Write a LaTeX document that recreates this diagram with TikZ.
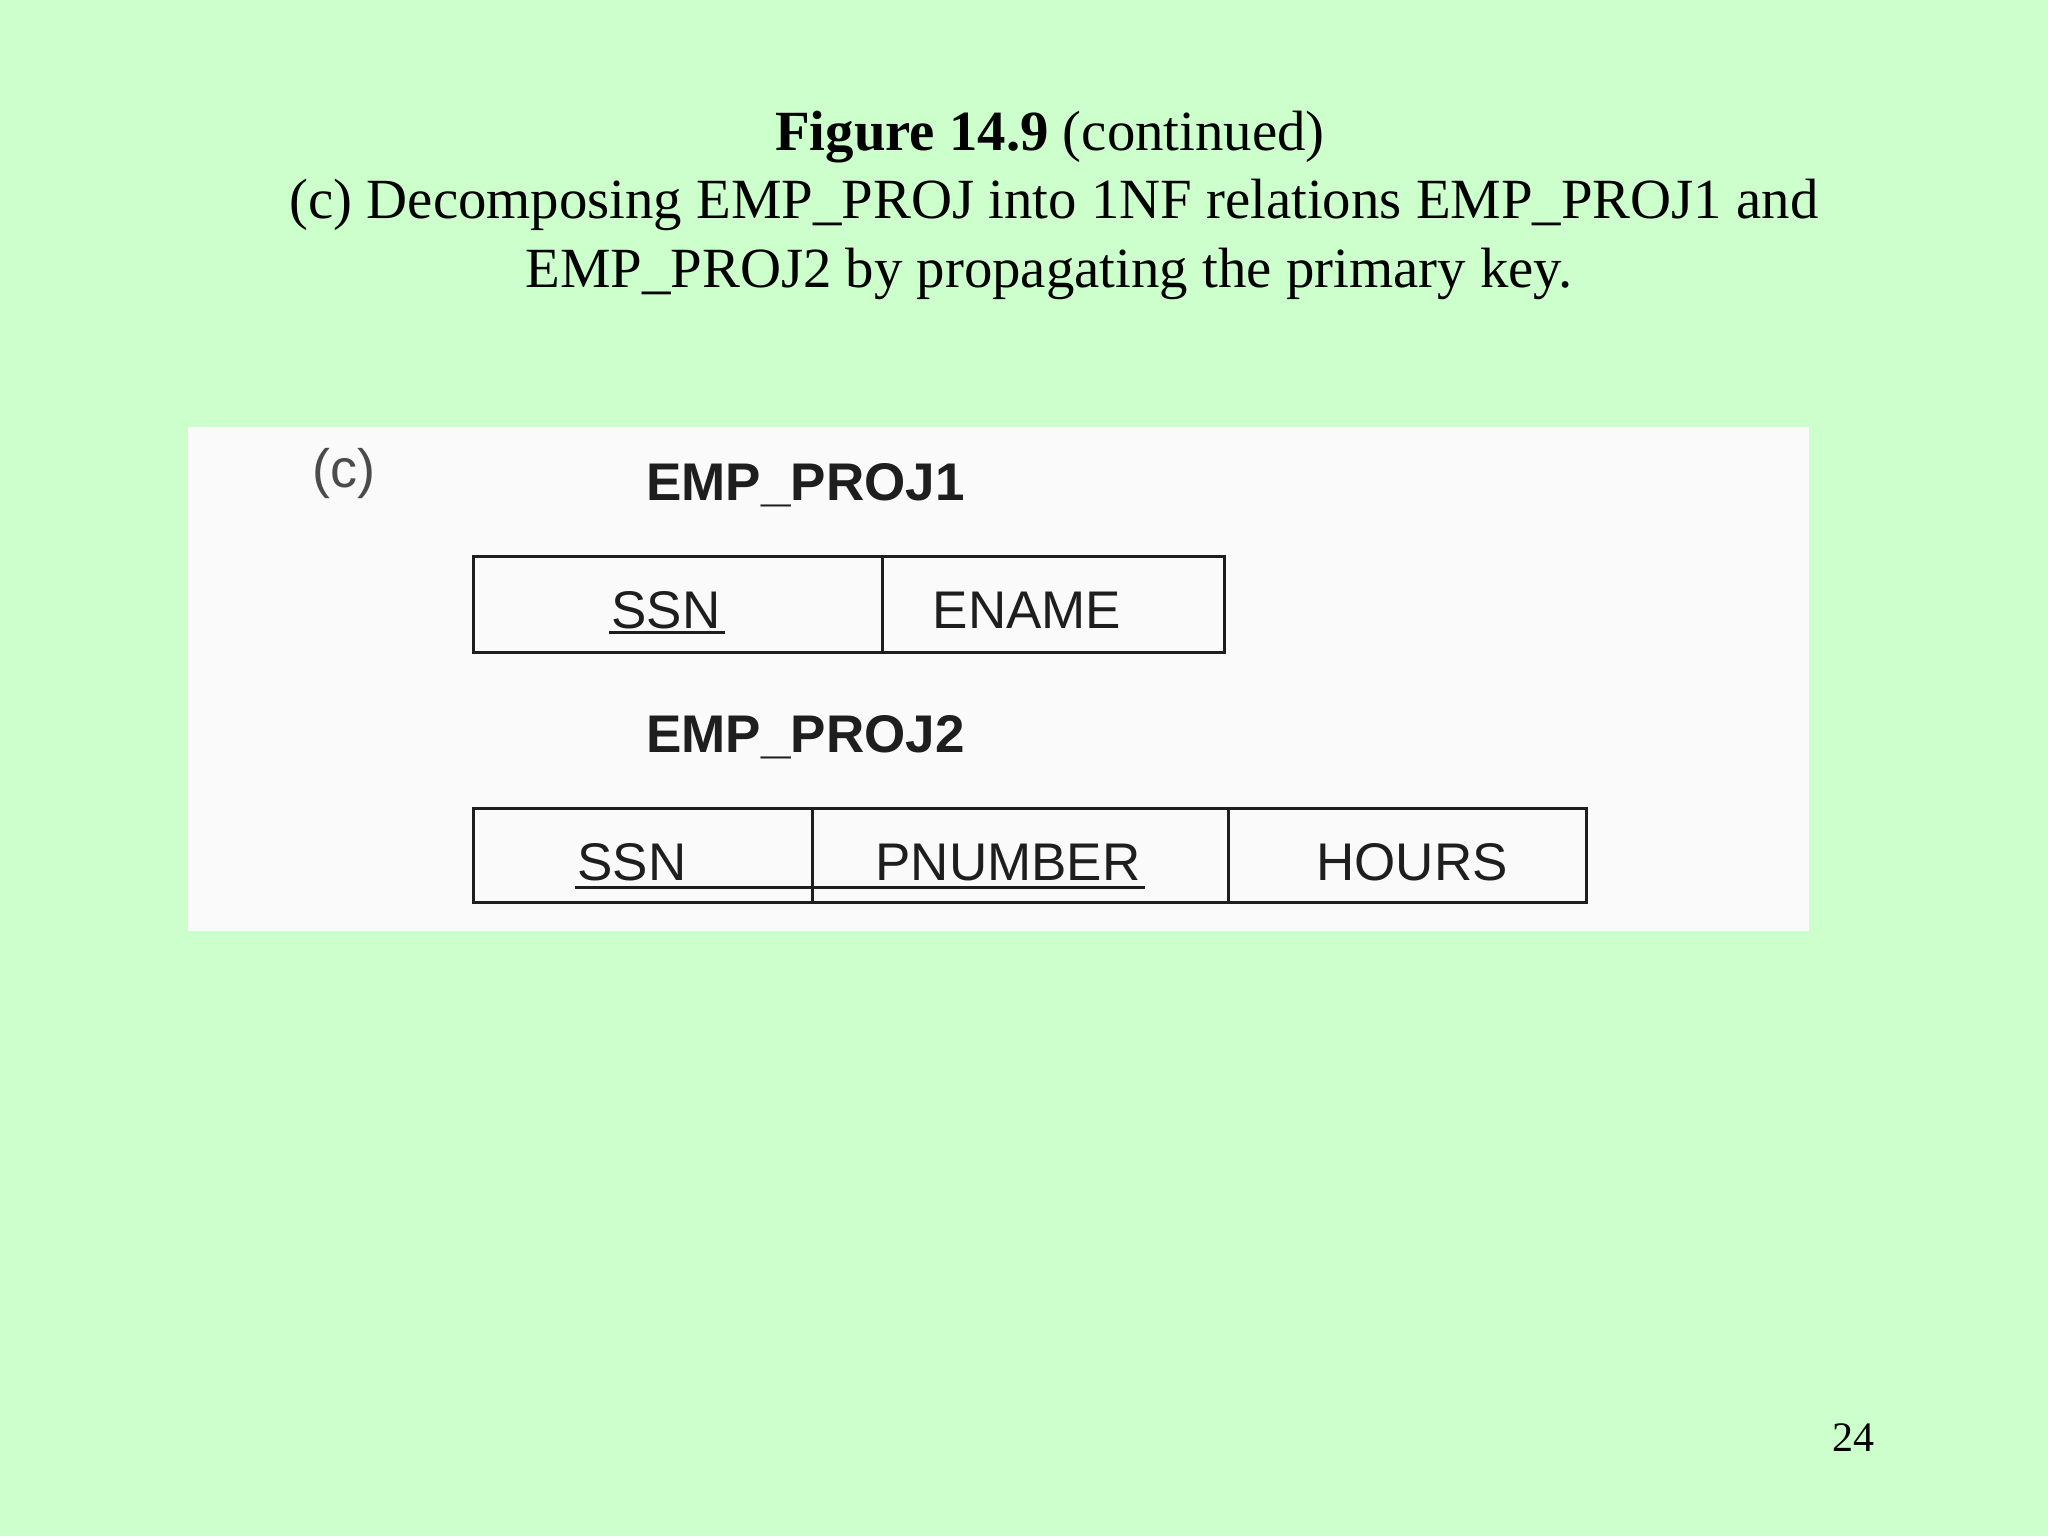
\documentclass[tikz,border=0pt]{standalone}
\usepackage{fontspec}
\setmainfont{Liberation Serif}
\setsansfont{Liberation Sans}
\usetikzlibrary{fit}
\definecolor{bggreen}{HTML}{CCFFCC}
\definecolor{panel}{HTML}{FAFAFA}
\definecolor{ink}{HTML}{1E1E1E}
\begin{document}
\begin{tikzpicture}[x=0.5pt,y=-0.5pt,
  cell/.style={draw=ink, line width=1.5pt, inner sep=0pt},
  attr/.style={inner sep=0pt, anchor=base, text=ink, font=\sffamily\fontsize{26.5}{30}\selectfont},
  relname/.style={inner sep=0pt, anchor=base west, text=ink, font=\sffamily\bfseries\fontsize{26.5}{30}\selectfont},
  titleline/.style={inner sep=0pt, anchor=base, font=\fontsize{28.4}{34}\selectfont},
  keyline/.style={draw=ink, line width=1.5pt}]
\fill[bggreen] (0,0) rectangle (2048,1536);
\useasboundingbox (0,0) rectangle (2048,1536);
% title
\node[titleline] (t1) at (1050,150) {\textbf{Figure 14.9} (continued)};
\node[titleline] (t2) at (1054,218) {(c) Decomposing EMP\_PROJ into 1NF relations EMP\_PROJ1 and};
\node[titleline] (t3) at (1049,287) {EMP\_PROJ2 by propagating the primary key.};
% panel
\node[fill=panel, inner sep=0pt, fit={(188,427) (1809,931)}] (panel) {};
\node[inner sep=0pt, text=ink!80, font=\sffamily\fontsize{27}{32}\selectfont] (lbl) at (344,474) {(c)};
% EMP_PROJ1
\node[relname] (r1) at (646,500) {EMP\_PROJ1};
\node[cell, fit={(473,556) (882,652)}] (c11) {};
\node[cell, fit={(882,556) (1224,652)}] (c12) {};
\node[attr] (ssn1) at (666,628) {SSN};
\node[attr] (ename) at (1027,628) {ENAME};
\draw[keyline] ([xshift=-1pt,yshift=-2.2pt]ssn1.base west) -- ([xshift=2pt,yshift=-2.2pt]ssn1.base east);
% EMP_PROJ2
\node[relname] (r2) at (646,752) {EMP\_PROJ2};
\node[cell, fit={(473,808) (812,902)}] (c21) {};
\node[cell, fit={(812,808) (1228,902)}] (c22) {};
\node[cell, fit={(1228,808) (1586,902)}] (c23) {};
\node[attr] (ssn2) at (632,880) {SSN};
\node[attr] (pnum) at (1008,880) {PNUMBER};
\node[attr] (hours) at (1412,880) {HOURS};
\draw[keyline] ([xshift=-1pt,yshift=-3.5pt]ssn2.base west) -- ([xshift=2pt,yshift=-3.5pt]pnum.base east);
% page number
\node[inner sep=0pt, anchor=base, font=\fontsize{21}{24}\selectfont] (pg) at (1853,1451) {24};
\end{tikzpicture}
\end{document}
